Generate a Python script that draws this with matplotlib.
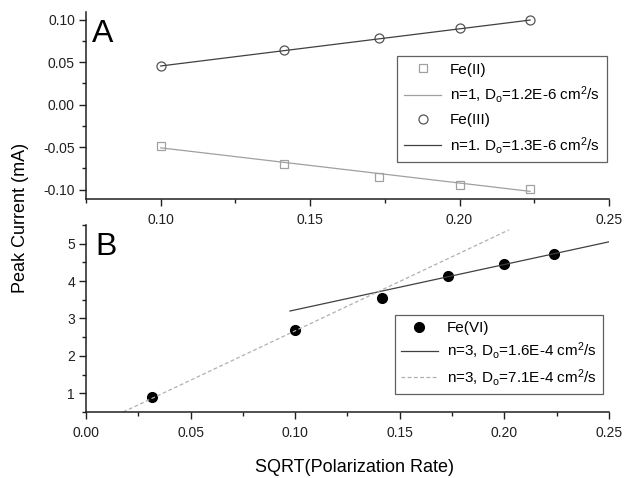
import matplotlib
matplotlib.use("Agg")
import matplotlib.pyplot as plt
from matplotlib.ticker import MultipleLocator

plt.rcParams['font.family'] = ['Liberation Sans', 'DejaVu Sans']
plt.rcParams['mathtext.fontset'] = 'custom'
plt.rcParams['mathtext.rm'] = 'Liberation Sans'
plt.rcParams['mathtext.it'] = 'Liberation Sans'

# Panel A data (sqrt of polarization rate vs peak current, mA)
rate_x = [0.1, 0.1414, 0.1732, 0.2, 0.2236]
fe2_y = [-0.0485, -0.0697, -0.0846, -0.0942, -0.0996]
fe3_y = [0.046, 0.0646, 0.078, 0.0906, 0.100]
fe2_fit_x = [0.1, 0.2236]
fe2_fit_y = [-0.0508, -0.102]
fe3_fit_x = [0.1, 0.2236]
fe3_fit_y = [0.0455, 0.0995]

# Panel B data
fe6_x = [0.0316, 0.1, 0.1414, 0.1732, 0.2, 0.2236]
fe6_y = [0.89, 2.69, 3.54, 4.13, 4.45, 4.73]
fe6_fit1_x = [0.0975, 0.25]
fe6_fit1_y = [3.20, 5.05]
fe6_fit2_x = [0.0178, 0.2022]
fe6_fit2_y = [0.5, 5.37]

lab_fe2 = 'Fe(II)'
lab_fe2_fit = r'n=1, D$_\mathregular{o}$=1.2E-6 cm$^\mathregular{2}$/s'
lab_fe3 = 'Fe(III)'
lab_fe3_fit = r'n=1. D$_\mathregular{o}$=1.3E-6 cm$^\mathregular{2}$/s'
lab_fe6 = 'Fe(VI)'
lab_fe6_fit1 = r'n=3, D$_\mathregular{o}$=1.6E-4 cm$^\mathregular{2}$/s'
lab_fe6_fit2 = r'n=3, D$_\mathregular{o}$=7.1E-4 cm$^\mathregular{2}$/s'

fig = plt.figure(figsize=(6.26, 4.78), dpi=100)
axA = fig.add_axes([0.1374, 0.5837, 0.8354, 0.3912])
axB = fig.add_axes([0.1374, 0.1381, 0.8354, 0.3912])
axA.patch.set_visible(False)
axB.patch.set_visible(False)

light = '#a0a0a0'
dark = '#404040'

# --- A ---
axA.plot(rate_x, fe2_y, ls='none', marker='s', ms=6, mfc='none', mec=light, mew=0.9, label=lab_fe2)
axA.plot(fe2_fit_x, fe2_fit_y, color=light, lw=0.9, label=lab_fe2_fit)
axA.plot(rate_x, fe3_y, ls='none', marker='o', ms=6.5, mfc='none', mec='#555555', mew=0.9, label=lab_fe3)
axA.plot(fe3_fit_x, fe3_fit_y, color=dark, lw=0.9, label=lab_fe3_fit)
axA.set_xlim(0.075, 0.25)
axA.set_ylim(-0.111, 0.109)
axA.xaxis.set_major_locator(MultipleLocator(0.05))
axA.xaxis.set_minor_locator(MultipleLocator(0.025))
axA.yaxis.set_major_locator(MultipleLocator(0.05))
axA.yaxis.set_minor_locator(MultipleLocator(0.025))
axA.yaxis.set_major_formatter(plt.FormatStrFormatter('%.2f'))
axA.xaxis.set_major_formatter(plt.FormatStrFormatter('%.2f'))
axA.text(0.012, 0.965, 'A', transform=axA.transAxes, fontsize=23, va='top', ha='left')
legA = axA.legend(loc='upper right', bbox_to_anchor=(0.996, 0.766), borderaxespad=0,
                  fontsize=11, fancybox=False, edgecolor='#606060', framealpha=1,
                  handlelength=2.4, handletextpad=0.6, labelspacing=0.5, borderpad=0.45)
legA.get_frame().set_linewidth(0.9)

# --- B ---
axB.plot(fe6_x, fe6_y, ls='none', marker='o', ms=7, color='black', label=lab_fe6)
axB.plot(fe6_fit1_x, fe6_fit1_y, color=dark, lw=0.9, label=lab_fe6_fit1)
axB.plot(fe6_fit2_x, fe6_fit2_y, color='#b0b0b0', lw=0.9, ls=(0, (3, 2)), label=lab_fe6_fit2)
axB.set_xlim(0, 0.25)
axB.set_ylim(0.5, 5.5)
axB.xaxis.set_major_locator(MultipleLocator(0.05))
axB.xaxis.set_minor_locator(MultipleLocator(0.025))
axB.yaxis.set_major_locator(MultipleLocator(1))
axB.yaxis.set_minor_locator(MultipleLocator(0.5))
axB.xaxis.set_major_formatter(plt.FormatStrFormatter('%.2f'))
axB.text(0.017, 0.965, 'B', transform=axB.transAxes, fontsize=23, va='top', ha='left')
legB = axB.legend(loc='upper right', bbox_to_anchor=(0.9885, 0.519), borderaxespad=0,
                  fontsize=11, fancybox=False, edgecolor='#606060', framealpha=1,
                  handlelength=2.4, handletextpad=0.6, labelspacing=0.35, borderpad=0.4)
legB.get_frame().set_linewidth(0.9)

for ax in (axA, axB):
    ax.spines['top'].set_visible(False)
    ax.spines['right'].set_visible(False)
    for s in ('left', 'bottom'):
        ax.spines[s].set_linewidth(1.1)
        ax.spines[s].set_color('#202020')
    ax.tick_params(which='major', direction='out', length=5, width=1, labelsize=10, colors='#202020', pad=3)
    ax.tick_params(which='minor', direction='out', length=3, width=1, colors='#202020')
    ax.tick_params(axis='x', which='major', pad=5)

fig.text(0.032, 0.545, 'Peak Current (mA)', rotation=90, fontsize=13, ha='center', va='center')
fig.text(0.567, 0.022, 'SQRT(Polarization Rate)', fontsize=13, ha='center', va='center')

fig.savefig('out.png', dpi=100)
